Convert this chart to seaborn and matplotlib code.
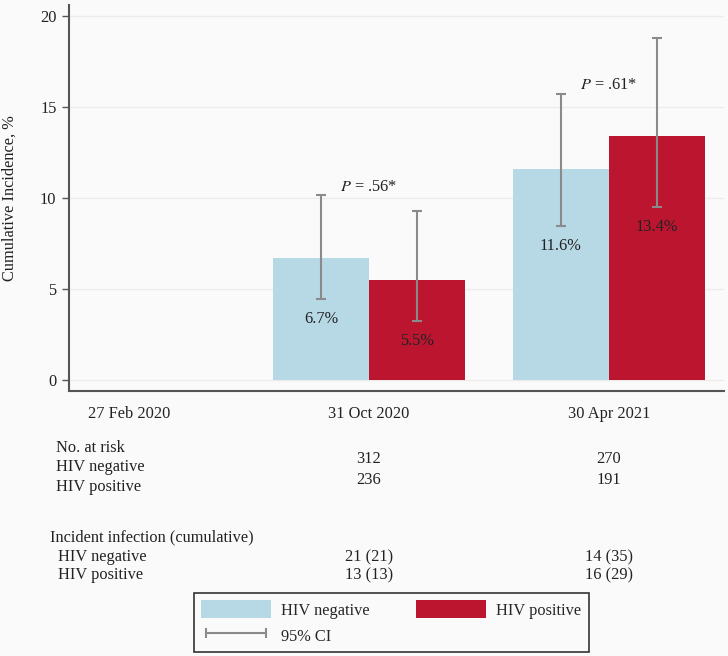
import numpy as np
import pandas as pd
import matplotlib
matplotlib.use("Agg")
import matplotlib.pyplot as plt
import matplotlib.transforms as mtransforms
from matplotlib.container import BarContainer
from matplotlib.patches import Patch
from matplotlib.lines import Line2D
import seaborn as sns

# data
dates = ["27 Feb 2020", "31 Oct 2020", "30 Apr 2021"]
bar_dates = ["31 Oct 2020", "30 Apr 2021"]
groups = ["HIV negative", "HIV positive"]
neg_inc = [6.7, 11.6]
pos_inc = [5.5, 13.4]
neg_lo = [4.45, 8.45]
neg_hi = [10.15, 15.75]
pos_lo = [3.25, 9.5]
pos_hi = [9.3, 18.8]
p_labels = ["$P$ = .56*", "$P$ = .61*"]
at_risk_neg = ["312", "270"]
at_risk_pos = ["236", "191"]
infect_neg = ["21 (21)", "14 (35)"]
infect_pos = ["13 (13)", "16 (29)"]

colors = ["#b7d9e6", "#bb1530"]
bg = "#fafafa"
txt_col = "#222222"
fs = 11.8

df = pd.DataFrame({
    "date": bar_dates * 2,
    "group": [groups[0]] * 2 + [groups[1]] * 2,
    "inc": neg_inc + pos_inc,
})

sns.set_style("white")
plt.rcParams["font.family"] = ["Liberation Serif", "DejaVu Serif"]
plt.rcParams["mathtext.fontset"] = "stix"
plt.rcParams["font.size"] = fs

fig = plt.figure(figsize=(7.28, 6.56), dpi=100, facecolor=bg)
ax = fig.add_axes([69 / 728, 1 - 391 / 656, 655 / 728, 386 / 656])
ax.set_facecolor(bg)

sns.barplot(data=df, x="date", y="inc", hue="group", order=dates,
            hue_order=groups, palette=colors, saturation=1, width=0.8,
            errorbar=None, legend=False, ax=ax, zorder=2,
            linewidth=0, edgecolor="none")

ax.set_xlim(-0.25, 2.48)
ax.set_ylim(-0.6, 20.62)
ax.set_yticks([0, 5, 10, 15, 20])
ax.yaxis.grid(True, color="#ececec", linewidth=1, zorder=0)
ax.set_axisbelow(True)
for s in ["top", "right"]:
    ax.spines[s].set_visible(False)
for s in ["left", "bottom"]:
    ax.spines[s].set_color("#555555")
    ax.spines[s].set_linewidth(1.5)
ax.tick_params(axis="y", left=True, length=5, width=1, color="#555555",
               pad=4, labelsize=fs, labelcolor=txt_col)
ax.tick_params(axis="x", bottom=False, pad=7, labelsize=fs, labelcolor=txt_col)
ax.set_xlabel("")
ax.set_ylabel("Cumulative Incidence, %", fontsize=fs, color=txt_col)
ax.yaxis.set_label_coords(-0.078, 0.5)

# error bars, value labels and P values
los = [neg_lo, pos_lo]
his = [neg_hi, pos_hi]
vals = [neg_inc, pos_inc]
bar_conts = [c for c in ax.containers if isinstance(c, BarContainer)]
centers = {}
for gi, cont in enumerate(bar_conts):
    xs = [b.get_x() + b.get_width() / 2 for b in cont
          if np.isfinite(b.get_height()) and b.get_height() > 0]
    centers[gi] = xs
    v = np.array(vals[gi])
    lo = np.array(los[gi])
    hi = np.array(his[gi])
    ax.errorbar(xs, v, yerr=[v - lo, hi - v], fmt="none", ecolor="#8a8a8a",
                elinewidth=1.5, capsize=3.5, capthick=1.5, zorder=3)
    for x, val, l in zip(xs, v, lo):
        ax.text(x, l - 1.1, f"{val:.1f}%", ha="center", va="center",
                fontsize=fs, color=txt_col, zorder=4)

for i, lab in enumerate(p_labels):
    xc = (centers[0][i] + centers[1][i]) / 2
    ax.text(xc, neg_hi[i] + 0.45, lab, ha="center", va="center",
            fontsize=fs, color=txt_col)

# table under the chart
tr = mtransforms.blended_transform_factory(ax.transData, fig.transFigure)

def fy(py):
    return 1 - py / 656

left_rows = [
    ("No. at risk", 56, 448),
    ("HIV negative", 56, 467),
    ("HIV positive", 56, 487),
    ("Incident infection (cumulative)", 50, 537),
    ("HIV negative", 58, 557),
    ("HIV positive", 58, 575),
]
for txt, px, py in left_rows:
    fig.text(px / 728, fy(py), txt, ha="left", va="center", fontsize=fs,
             color=txt_col)

for i in range(2):
    xc = i + 1
    ax.text(xc, fy(459), at_risk_neg[i], transform=tr, ha="center", va="center",
            fontsize=fs, color=txt_col)
    ax.text(xc, fy(480), at_risk_pos[i], transform=tr, ha="center", va="center",
            fontsize=fs, color=txt_col)
    ax.text(xc, fy(557), infect_neg[i], transform=tr, ha="center", va="center",
            fontsize=fs, color=txt_col)
    ax.text(xc, fy(575), infect_pos[i], transform=tr, ha="center", va="center",
            fontsize=fs, color=txt_col)

# legend
handles = [
    Patch(facecolor=colors[0], edgecolor="none", label=groups[0]),
    Line2D([0], [0], color="#8a8a8a", lw=1.5, marker="|", markersize=7,
           markeredgewidth=1.5, label="95% CI"),
    Patch(facecolor=colors[1], edgecolor="none", label=groups[1]),
]
leg = fig.legend(handles=handles, loc="center", ncol=2, numpoints=2,
                 bbox_to_anchor=(391 / 728, fy(622.5)), frameon=True,
                 fancybox=False, edgecolor="#333333", facecolor=bg,
                 fontsize=fs, handlelength=4.3, handleheight=1.3,
                 columnspacing=2.8, labelspacing=0.45, borderpad=0.45,
                 handletextpad=0.6, borderaxespad=0)
leg.get_frame().set_linewidth(1.2)
leg.get_frame().set_alpha(1)

fig.savefig("out.png", dpi=100, facecolor=bg)
